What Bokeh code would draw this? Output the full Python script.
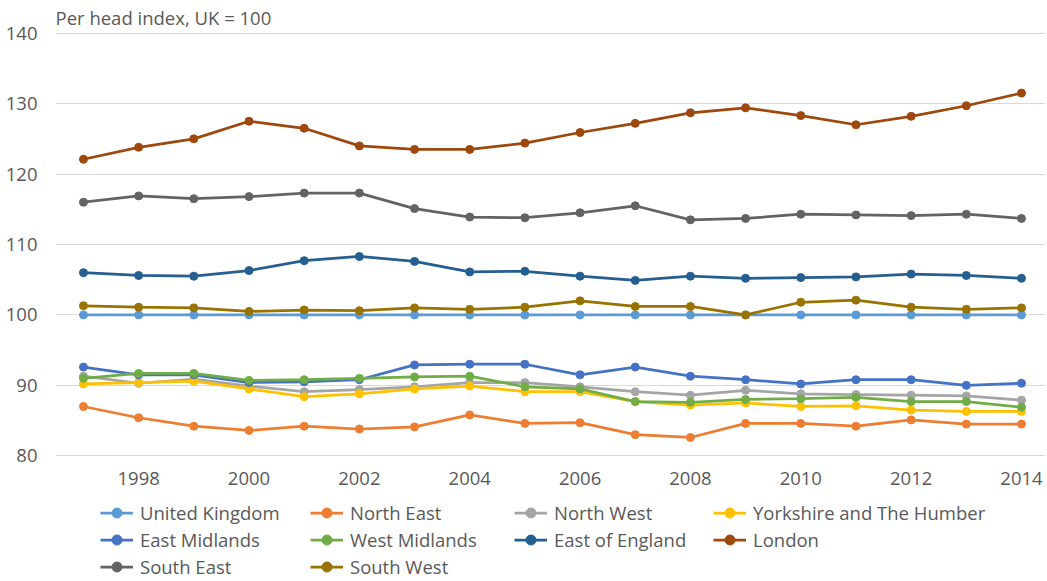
from bokeh.plotting import figure
from bokeh.models import Range1d, FixedTicker, Legend, LegendItem
from bokeh.layouts import column
from bokeh.embed import file_html
from bokeh.resources import INLINE

years = list(range(1997, 2015))

united_kingdom = [100] * 18
north_east = [87.0, 85.4, 84.2, 83.6, 84.2, 83.8, 84.1, 85.8, 84.6, 84.7, 83.0, 82.6, 84.6, 84.6, 84.2, 85.1, 84.5, 84.5]
north_west = [91.3, 90.3, 90.9, 89.9, 89.1, 89.4, 89.8, 90.4, 90.4, 89.8, 89.1, 88.6, 89.3, 88.8, 88.7, 88.6, 88.5, 87.9]
yorkshire = [90.2, 90.4, 90.6, 89.5, 88.4, 88.8, 89.5, 89.9, 89.1, 89.1, 87.7, 87.2, 87.5, 87.0, 87.1, 86.5, 86.3, 86.3]
east_midlands = [92.6, 91.5, 91.5, 90.4, 90.5, 90.8, 92.9, 93.0, 93.0, 91.5, 92.6, 91.3, 90.8, 90.2, 90.8, 90.8, 90.0, 90.3]
west_midlands = [91.0, 91.7, 91.7, 90.7, 90.8, 91.0, 91.2, 91.3, 89.8, 89.5, 87.7, 87.6, 88.0, 88.1, 88.3, 87.7, 87.7, 86.9]
east_of_england = [106.0, 105.6, 105.5, 106.3, 107.7, 108.3, 107.6, 106.1, 106.2, 105.5, 104.9, 105.5, 105.2, 105.3, 105.4, 105.8, 105.6, 105.2]
london = [122.1, 123.8, 125.0, 127.5, 126.5, 124.0, 123.5, 123.5, 124.4, 125.9, 127.2, 128.7, 129.4, 128.3, 127.0, 128.2, 129.7, 131.5]
south_east = [116.0, 116.9, 116.5, 116.8, 117.3, 117.3, 115.1, 113.9, 113.8, 114.5, 115.5, 113.5, 113.7, 114.3, 114.2, 114.1, 114.3, 113.7]
south_west = [101.3, 101.1, 101.0, 100.5, 100.7, 100.6, 101.0, 100.8, 101.1, 102.0, 101.2, 101.2, 100.0, 101.8, 102.1, 101.1, 100.8, 101.0]

series = [
    ("United Kingdom", united_kingdom, "#5B9BD5"),
    ("North East", north_east, "#ED7D31"),
    ("North West", north_west, "#A5A5A5"),
    ("Yorkshire and The Humber", yorkshire, "#FFC000"),
    ("East Midlands", east_midlands, "#4472C4"),
    ("West Midlands", west_midlands, "#70AD47"),
    ("East of England", east_of_england, "#255E91"),
    ("London", london, "#9E480E"),
    ("South East", south_east, "#636363"),
    ("South West", south_west, "#997300"),
]

x_ticks = list(range(1998, 2015, 2))
y_ticks = [80, 90, 100, 110, 120, 130, 140]

FONT = "Open Sans"
FONT_SIZE = "18.5px"
TEXT_COLOR = "#595959"
GRID = "#D9D9D9"

p = figure(width=1047, height=498, output_backend="svg", toolbar_location=None,
           x_range=Range1d(1996.493, 2014.435), y_range=Range1d(79.9, 140.1),
           min_border_left=55, min_border_right=2, min_border_top=31, min_border_bottom=42,
           title="Per head index, UK = 100")
p.outline_line_color = None
p.background_fill_color = "white"
p.title.text_font = FONT
p.title.text_font_size = FONT_SIZE
p.title.text_font_style = "normal"
p.title.text_color = TEXT_COLOR
p.title.align = "left"
p.title.standoff = 5

for ax in (p.xaxis[0], p.yaxis[0]):
    ax.axis_line_color = None
    ax.major_tick_line_color = None
    ax.minor_tick_line_color = None
    ax.major_label_text_font = FONT
    ax.major_label_text_font_size = FONT_SIZE
    ax.major_label_text_color = TEXT_COLOR

p.xaxis.ticker = FixedTicker(ticks=x_ticks)
p.yaxis.ticker = FixedTicker(ticks=y_ticks)
p.xaxis.major_label_standoff = 9
p.yaxis.major_label_standoff = 12

p.xgrid.grid_line_color = None
p.ygrid.grid_line_color = GRID
p.ygrid.grid_line_width = 1

for name, vals, color in series:
    p.line(years, vals, line_color=color, line_width=2.75)
    p.scatter(years, vals, size=8, fill_color=color, line_color=color)

# Legend strip below the chart (its own ranges keep the series out of view)
leg_fig = figure(width=1047, height=83, output_backend="svg", toolbar_location=None,
                 x_range=Range1d(0, 1), y_range=Range1d(0, 1),
                 x_axis_type=None, y_axis_type=None,
                 min_border_left=55, min_border_right=2, min_border_top=0, min_border_bottom=0)
leg_fig.outline_line_color = None
leg_fig.xgrid.visible = False
leg_fig.ygrid.visible = False

items = {}
for name, vals, color in series:
    ln = leg_fig.line(years, vals, line_color=color, line_width=2.75)
    sc = leg_fig.scatter(years, vals, size=8, fill_color=color, line_color=color)
    items[name] = LegendItem(label=name, renderers=[ln, sc])

ROW_H = 25
GAP = 2
TOP = 1.5
columns = [
    (["United Kingdom", "East Midlands", "South East"], 45),
    (["North East", "West Midlands", "South West"], 255),
    (["North West", "East of England"], 459),
    (["Yorkshire and The Humber", "London"], 658),
]
for names, x_off in columns:
    n = len(names)
    height = n * ROW_H + (n - 1) * GAP
    bottom_px = TOP + height
    leg = Legend(items=[items[nm] for nm in names],
                 location=(x_off, 83 - bottom_px),
                 orientation="vertical",
                 glyph_width=33, glyph_height=ROW_H, label_height=ROW_H,
                 label_standoff=7, spacing=GAP, padding=0, margin=0,
                 label_text_font=FONT, label_text_font_size=FONT_SIZE,
                 label_text_color=TEXT_COLOR,
                 border_line_color=None, background_fill_alpha=0)
    leg_fig.add_layout(leg, "center")

layout = column(p, leg_fig, spacing=0)
open("out.html", "w").write(file_html(layout, INLINE))
